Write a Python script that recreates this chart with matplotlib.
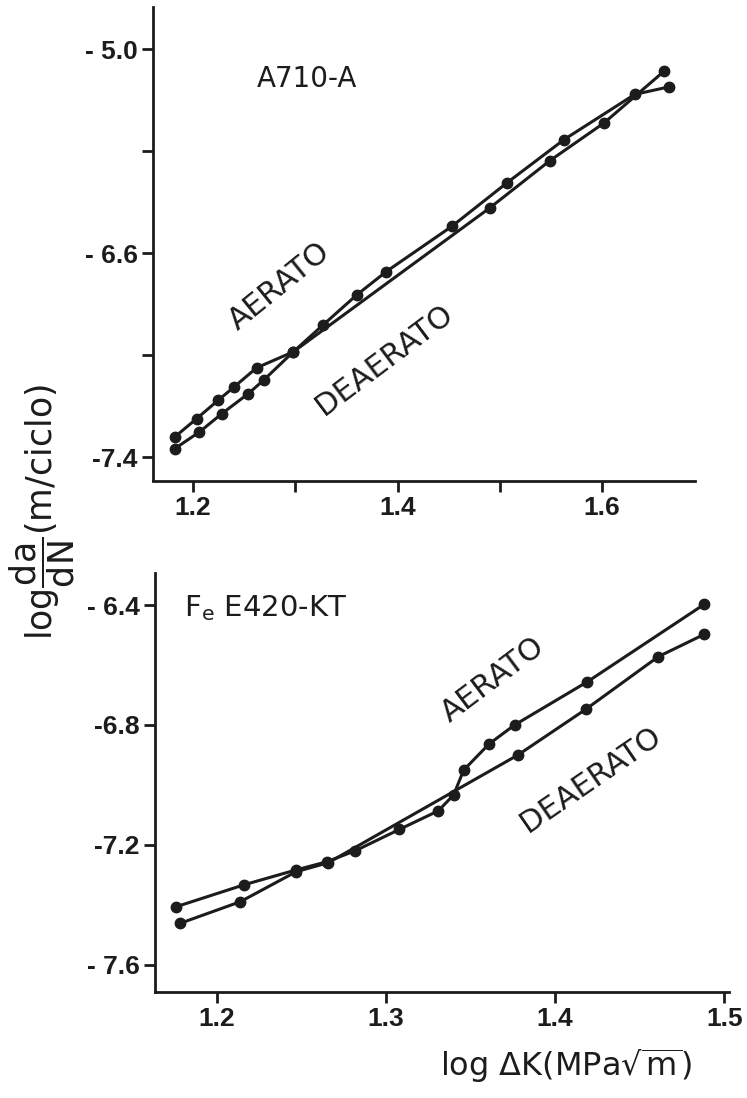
import numpy as np
import matplotlib
matplotlib.use("Agg")
import matplotlib.pyplot as plt

plt.rcParams["font.family"] = ["DejaVu Sans"]
plt.rcParams["mathtext.default"] = "regular"

INK = "#1c1c1c"

# top panel: A710-A
top_aer_x = [1.182, 1.2035, 1.2245, 1.240, 1.262, 1.298, 1.327, 1.360, 1.389, 1.453, 1.507, 1.563, 1.632, 1.666]
top_aer_y = [-7.321, -7.249, -7.177, -7.125, -7.050, -6.987, -6.882, -6.764, -6.672, -6.495, -6.324, -6.154, -5.977, -5.947]
top_dea_x = [1.182, 1.206, 1.228, 1.254, 1.269, 1.298, 1.490, 1.549, 1.602, 1.661]
top_dea_y = [-7.367, -7.302, -7.230, -7.151, -7.098, -6.987, -6.423, -6.237, -6.089, -5.885]
top_xticks = [1.2, 1.3, 1.4, 1.5, 1.6]
top_xlabels = ["1.2", "", "1.4", "", "1.6"]
top_yticks = [-7.4, -7.0, -6.6, -6.2, -5.8]
top_ylabels = ["-7.4", "", "- 6.6", "", "- 5.0"]

# bottom panel: Fe E420-KT
bot_aer_x = [1.176, 1.216, 1.247, 1.265, 1.282, 1.308, 1.331, 1.340, 1.346, 1.361, 1.376, 1.419, 1.488]
bot_aer_y = [-7.406, -7.333, -7.283, -7.256, -7.219, -7.148, -7.086, -7.033, -6.950, -6.863, -6.800, -6.656, -6.398]
bot_dea_x = [1.1785, 1.214, 1.247, 1.266, 1.378, 1.418, 1.461, 1.488]
bot_dea_y = [-7.461, -7.389, -7.289, -7.259, -6.900, -6.748, -6.572, -6.498]
bot_xticks = [1.2, 1.3, 1.4, 1.5]
bot_xlabels = ["1.2", "1.3", "1.4", "1.5"]
bot_yticks = [-7.6, -7.2, -6.8, -6.4]
bot_ylabels = ["- 7.6", "-7.2", "-6.8", "- 6.4"]


def style_axes(ax, xticks, xlabels, yticks, ylabels):
    for s in ["top", "right"]:
        ax.spines[s].set_visible(False)
    for s in ["left", "bottom"]:
        ax.spines[s].set_linewidth(2.0)
        ax.spines[s].set_color(INK)
    ax.set_xticks(xticks)
    ax.set_xticklabels(xlabels)
    ax.set_yticks(yticks)
    ax.set_yticklabels(ylabels)
    ax.tick_params(direction="out", length=8, width=2, color=INK, pad=3,
                   labelsize=19, labelcolor=INK)
    for lab in ax.get_xticklabels() + ax.get_yticklabels():
        lab.set_family(["Liberation Sans Narrow", "Liberation Sans", "DejaVu Sans"])
        lab.set_weight("bold")


def draw_series(ax, x, y):
    ax.plot(x, y, color=INK, lw=2.2, marker="o", ms=7.5, mfc=INK, mec=INK)


fig = plt.figure(figsize=(7.47, 10.98), dpi=100)

ax1 = fig.add_axes([153 / 747, 1 - 480.5 / 1098, 542 / 747, 473 / 1098])
draw_series(ax1, top_aer_x, top_aer_y)
draw_series(ax1, top_dea_x, top_dea_y)
ax1.set_xlim(1.1607, 1.691)
ax1.set_ylim(-7.492, -5.636)
style_axes(ax1, top_xticks, top_xlabels, top_yticks, top_ylabels)
ax1.text(1.262, -5.918, "A710-A", fontsize=20, color=INK, ha="left", va="center")
ax1.text(1.2846, -6.731, "AERATO", fontsize=22, color=INK, rotation=39,
         ha="center", va="center", rotation_mode="anchor")
ax1.text(1.387, -7.017, "DEAERATO", fontsize=22, color=INK, rotation=37,
         ha="center", va="center", rotation_mode="anchor")

ax2 = fig.add_axes([155 / 747, 1 - 991.7 / 1098, 574 / 747, 418.5 / 1098])
draw_series(ax2, bot_aer_x, bot_aer_y)
draw_series(ax2, bot_dea_x, bot_dea_y)
ax2.set_xlim(1.1636, 1.5027)
ax2.set_ylim(-7.689, -6.294)
style_axes(ax2, bot_xticks, bot_xlabels, bot_yticks, bot_ylabels)
ax2.text(1.181, -6.411, r"F$_\mathregular{e}$ E420-KT", fontsize=21, color=INK,
         ha="left", va="center")
ax2.text(1.3635, -6.648, "AERATO", fontsize=22, color=INK, rotation=37,
         ha="center", va="center", rotation_mode="anchor")
ax2.text(1.4207, -6.981, "DEAERATO", fontsize=22, color=INK, rotation=34.5,
         ha="center", va="center", rotation_mode="anchor")

fig.text(42 / 747, 1 - 512 / 1098, r"log$\dfrac{da}{dN}$(m/ciclo)", fontsize=25,
         color=INK, rotation=90, ha="center", va="center")
fig.text(440 / 747, 1 - 1066 / 1098, r"log $\mathit{\Delta}$K(MPa$\sqrt{m}$)",
         fontsize=23, color=INK, ha="left", va="center")

fig.savefig("out.png", dpi=100)
